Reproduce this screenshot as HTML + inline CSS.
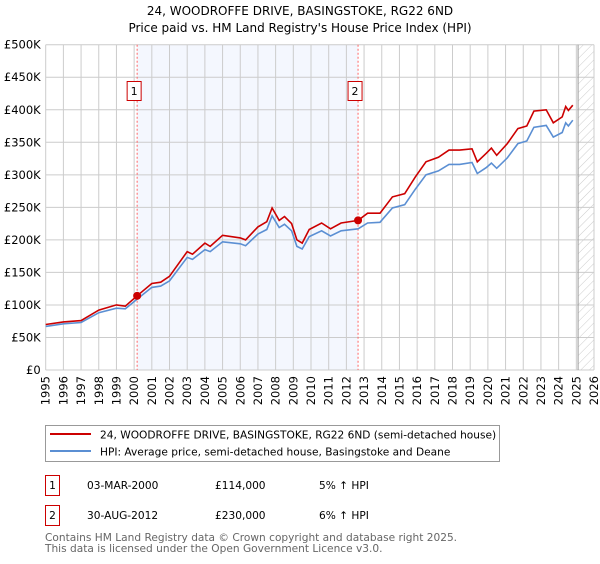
<!DOCTYPE html>
<html><head><meta charset="utf-8"><style>
body{margin:0;background:#fff;font-family:"DejaVu Sans","Liberation Sans",sans-serif;}
svg text{font-family:"DejaVu Sans","Liberation Sans",sans-serif;}
</style></head><body>
<svg id="chart" width="600" height="560" xmlns="http://www.w3.org/2000/svg">
<defs><pattern id="hatch" width="6" height="6" patternUnits="userSpaceOnUse" patternTransform="rotate(45)"><line x1="0" y1="0" x2="0" y2="6" stroke="#ccc" stroke-width="1"/></pattern></defs>
<text x="300" y="15" text-anchor="middle" font-size="12">24, WOODROFFE DRIVE, BASINGSTOKE, RG22 6ND</text>
<text x="300" y="32" text-anchor="middle" font-size="12">Price paid vs. HM Land Registry's House Price Index (HPI)</text>
<g id="plot"></g>
<g>
<rect x="45.5" y="425.5" width="454" height="36" fill="#fff" stroke="#999"/>
<line x1="50" y1="434" x2="91" y2="434" stroke="#cc0000" stroke-width="2"/>
<text x="100" y="438.5" font-size="10.6">24, WOODROFFE DRIVE, BASINGSTOKE, RG22 6ND (semi-detached house)</text>
<line x1="50" y1="451" x2="91" y2="451" stroke="#5b8fd3" stroke-width="2"/>
<text x="100" y="455.5" font-size="10.6">HPI: Average price, semi-detached house, Basingstoke and Deane</text>
</g>
<g font-size="10.6">
<rect x="45.5" y="475.5" width="14" height="20" fill="#fff" stroke="#cc0000"/>
<text x="52.5" y="489" text-anchor="middle">1</text>
<text x="87" y="489">03-MAR-2000</text><text x="215" y="489">£114,000</text><text x="319" y="489">5% ↑ HPI</text>
</g>
<g font-size="10.6">
<rect x="45.5" y="505.5" width="14" height="20" fill="#fff" stroke="#cc0000"/>
<text x="52.5" y="519" text-anchor="middle">2</text>
<text x="87" y="519">30-AUG-2012</text><text x="215" y="519">£230,000</text><text x="319" y="519">6% ↑ HPI</text>
</g>
<text x="45" y="541" font-size="10.6" fill="#666">Contains HM Land Registry data © Crown copyright and database right 2025.</text>
<text x="45" y="552" font-size="10.6" fill="#666">This data is licensed under the Open Government Licence v3.0.</text>
</svg>
<script>
const years=[1995,1996,1997,1998,1999,1999.5,2000.17,2001,2001.5,2002,2003,2003.3,2004,2004.3,2005,2006,2006.3,2007,2007.5,2007.8,2008.2,2008.5,2008.9,2009.2,2009.5,2009.9,2010.6,2011.1,2011.7,2012.66,2013.2,2013.9,2014.6,2015.3,2015.9,2016.5,2017.2,2017.8,2018.4,2019.1,2019.4,2019.9,2020.2,2020.5,2021.1,2021.7,2022.2,2022.6,2023.3,2023.7,2024.2,2024.4,2024.55,2024.8];
const priceSeries=[70,74,76,92,100,98,114,133,135,144,182,178,195,190,207,203,200,220,228,249,230,236,225,200,195,216,226,217,226,230,241,241,266,271,297,320,327,338,338,340,320,333,341,330,348,371,375,398,400,380,389,405,399,407];
const hpiSeries=[67,71,73,88,95,94,109,127,129,137,173,170,185,182,197,194,191,209,216,237,219,224,214,190,186,205,214,206,214,217,226,227,249,254,278,300,306,316,316,319,302,311,318,310,326,348,352,373,376,358,365,380,375,384];
const yTicks=[0,50,100,150,200,250,300,350,400,450,500];
const yTickLabels=["£0","£50K","£100K","£150K","£200K","£250K","£300K","£350K","£400K","£450K","£500K"];
const xTicks=[1995,1996,1997,1998,1999,2000,2001,2002,2003,2004,2005,2006,2007,2008,2009,2010,2011,2012,2013,2014,2015,2016,2017,2018,2019,2020,2021,2022,2023,2024,2025,2026];
const saleYears=[2000.17,2012.66];
const saleValues=[114,230];
const saleLabels=["1","2"];
const dataEnd=2025.1;

const L=45.7,R=594,T=44.7,B=370;
const x=v=>L+(v-1995)/(2026-1995)*(R-L);
const y=v=>B-v/500*(B-T);
const NS="http://www.w3.org/2000/svg";
const g=document.getElementById('plot');
function mk(tag,attrs,parent){const e=document.createElementNS(NS,tag);for(const k in attrs)e.setAttribute(k,attrs[k]);(parent||g).appendChild(e);return e;}

let e=mk('rect',{x:L,y:T,width:R-L,height:B-T,fill:'#fff'});


e=mk('rect',{x:x(saleYears[0]),y:T,width:x(saleYears[1])-x(saleYears[0]),height:B-T,fill:'#f4f7fe'});


e=mk('rect',{x:x(dataEnd),y:T,width:R-x(dataEnd),height:B-T,fill:'url(#hatch)'});



xTicks.forEach(t=>{
  const l=mk('line',{x1:x(t),x2:x(t),y1:T,y2:B,stroke:'#ccc','stroke-width':1});
  
  
  const tx=mk('text',{x:0,y:0,'font-size':11.5,'text-anchor':'end',transform:`translate(${x(t)+4},${B+6}) rotate(-90)`});
  
  
  tx.textContent=t;
});
yTicks.forEach((t,i)=>{
  const l=mk('line',{x1:L,x2:R,y1:y(t),y2:y(t),stroke:'#ccc','stroke-width':1});
  
  
  const tx=mk('text',{x:L-5,y:y(t)+4,'font-size':11.5,'text-anchor':'end'});
  
  
  tx.textContent=yTickLabels[i];
});
e=mk('line',{x1:x(dataEnd),x2:x(dataEnd),y1:T,y2:B,stroke:'#999','stroke-width':1});



saleYears.forEach((s,i)=>{
  const l=mk('line',{x1:x(s),x2:x(s),y1:T,y2:B,stroke:'#ff6666','stroke-width':1,'stroke-dasharray':'2,2'});
  
  
  const r=mk('rect',{x:x(s)-10,y:81.5,width:14,height:19,fill:'#fff',stroke:'#cc0000'});
  
  
  const tx=mk('text',{x:x(s)-3,y:95,'font-size':11,'text-anchor':'middle'});
  
  
  tx.textContent=saleLabels[i];
});

function path(vals){return vals.map((v,i)=>(i?'L':'M')+x(years[i]).toFixed(1)+','+y(v).toFixed(1)).join('');}
e=mk('path',{d:path(hpiSeries),fill:'none',stroke:'#5b8fd3','stroke-width':1.6});


e=mk('path',{d:path(priceSeries),fill:'none',stroke:'#cc0000','stroke-width':1.6});


saleYears.forEach((s,i)=>{
  const c=mk('circle',{cx:x(s),cy:y(saleValues[i]),r:4,fill:'#cc0000'});
  
  
});
</script>
</body></html>
